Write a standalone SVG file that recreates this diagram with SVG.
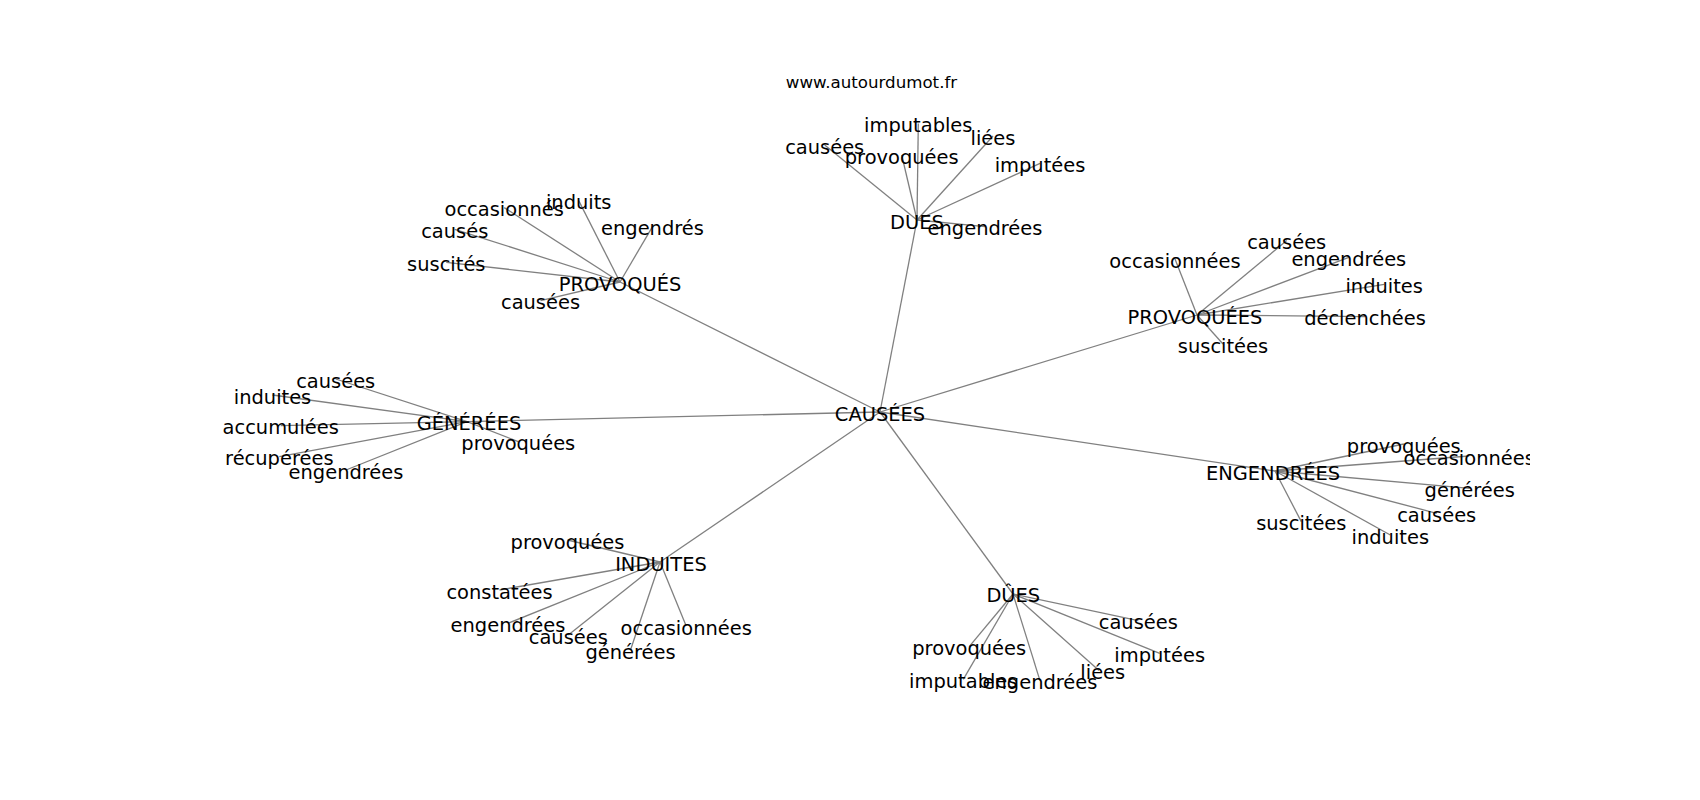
<svg xmlns="http://www.w3.org/2000/svg" width="1700" height="800" viewBox="0 0 1700 800">
<defs>
<clipPath id="ax"><rect x="212.5" y="96" width="1317.5" height="616"/></clipPath>
<style>
.e{stroke:#808080;stroke-width:1.3;fill:none}
.t{font-family:"DejaVu Sans",sans-serif;font-size:19.44px;fill:#000;text-anchor:middle;dominant-baseline:central}
.title{font-family:"DejaVu Sans",sans-serif;font-size:16.67px;fill:#000;text-anchor:middle}
</style>
</defs>
<rect width="1700" height="800" fill="#fff"/>
<text class="title" x="871.5" y="88.3">www.autourdumot.fr</text>
<g clip-path="url(#ax)">
<g id="edges">
<line class="e" x1="880" y1="412" x2="917" y2="220"/>
<line class="e" x1="880" y1="412" x2="620" y2="282"/>
<line class="e" x1="880" y1="412" x2="1197" y2="315"/>
<line class="e" x1="880" y1="412" x2="467" y2="421.6"/>
<line class="e" x1="880" y1="412" x2="1275" y2="471"/>
<line class="e" x1="880" y1="412" x2="660" y2="562"/>
<line class="e" x1="880" y1="412" x2="1013" y2="594"/>
<line class="e" x1="917" y1="220" x2="918.3" y2="123.4"/>
<line class="e" x1="917" y1="220" x2="993" y2="136"/>
<line class="e" x1="917" y1="220" x2="824.7" y2="145"/>
<line class="e" x1="917" y1="220" x2="901.7" y2="155"/>
<line class="e" x1="917" y1="220" x2="1040" y2="163.4"/>
<line class="e" x1="917" y1="220" x2="985" y2="226.7"/>
<line class="e" x1="620" y1="282" x2="504.2" y2="207.6"/>
<line class="e" x1="620" y1="282" x2="578.7" y2="200.6"/>
<line class="e" x1="620" y1="282" x2="454.7" y2="229.3"/>
<line class="e" x1="620" y1="282" x2="652.5" y2="226.6"/>
<line class="e" x1="620" y1="282" x2="446.3" y2="262.3"/>
<line class="e" x1="620" y1="282" x2="540.5" y2="300.6"/>
<line class="e" x1="1197" y1="315" x2="1286.7" y2="240.6"/>
<line class="e" x1="1197" y1="315" x2="1175" y2="259"/>
<line class="e" x1="1197" y1="315" x2="1348.8" y2="257.3"/>
<line class="e" x1="1197" y1="315" x2="1384.2" y2="284.3"/>
<line class="e" x1="1197" y1="315" x2="1365" y2="316.6"/>
<line class="e" x1="1197" y1="315" x2="1223" y2="344"/>
<line class="e" x1="467" y1="421.6" x2="335.7" y2="379"/>
<line class="e" x1="467" y1="421.6" x2="272.5" y2="395"/>
<line class="e" x1="467" y1="421.6" x2="280.7" y2="425.6"/>
<line class="e" x1="467" y1="421.6" x2="518.3" y2="441.6"/>
<line class="e" x1="467" y1="421.6" x2="279.3" y2="456.6"/>
<line class="e" x1="467" y1="421.6" x2="346" y2="470"/>
<line class="e" x1="1275" y1="471" x2="1403.8" y2="444"/>
<line class="e" x1="1275" y1="471" x2="1469.2" y2="456"/>
<line class="e" x1="1275" y1="471" x2="1469.7" y2="488.3"/>
<line class="e" x1="1275" y1="471" x2="1436.7" y2="513.3"/>
<line class="e" x1="1275" y1="471" x2="1301.3" y2="521.6"/>
<line class="e" x1="1275" y1="471" x2="1390.3" y2="535"/>
<line class="e" x1="660" y1="562" x2="567.5" y2="540"/>
<line class="e" x1="660" y1="562" x2="499.5" y2="590"/>
<line class="e" x1="660" y1="562" x2="508" y2="623.3"/>
<line class="e" x1="660" y1="562" x2="686.2" y2="626"/>
<line class="e" x1="660" y1="562" x2="568.3" y2="635"/>
<line class="e" x1="660" y1="562" x2="630.5" y2="650"/>
<line class="e" x1="1013" y1="594" x2="1138.3" y2="620.6"/>
<line class="e" x1="1013" y1="594" x2="969.2" y2="646.6"/>
<line class="e" x1="1013" y1="594" x2="1159.7" y2="653.3"/>
<line class="e" x1="1013" y1="594" x2="1099" y2="670.6"/>
<line class="e" x1="1013" y1="594" x2="963.3" y2="679.3"/>
<line class="e" x1="1013" y1="594" x2="1040" y2="680.6"/>
</g>
<g transform="translate(0,2)">
<g id="n-causees"><text class="t" x="880" y="412">CAUSÉES</text></g>
<g id="n-dues"><text class="t" x="917" y="220">DUES</text></g>
<g id="n-dues-imputables"><text class="t" x="918.3" y="123.4">imputables</text></g>
<g id="n-dues-liees"><text class="t" x="993" y="136">liées</text></g>
<g id="n-dues-causees"><text class="t" x="824.7" y="145">causées</text></g>
<g id="n-dues-provoquees"><text class="t" x="901.7" y="155">provoquées</text></g>
<g id="n-dues-imputees"><text class="t" x="1040" y="163.4">imputées</text></g>
<g id="n-dues-engendrees"><text class="t" x="985" y="226.7">engendrées</text></g>
<g id="n-provoques"><text class="t" x="620" y="282">PROVOQUÉS</text></g>
<g id="n-provoques-occasionnes"><text class="t" x="504.2" y="207.6">occasionnés</text></g>
<g id="n-provoques-induits"><text class="t" x="578.7" y="200.6">induits</text></g>
<g id="n-provoques-causes"><text class="t" x="454.7" y="229.3">causés</text></g>
<g id="n-provoques-engendres"><text class="t" x="652.5" y="226.6">engendrés</text></g>
<g id="n-provoques-suscites"><text class="t" x="446.3" y="262.3">suscités</text></g>
<g id="n-provoques-causees"><text class="t" x="540.5" y="300.6">causées</text></g>
<g id="n-provoquees"><text class="t" x="1195" y="315">PROVOQUÉES</text></g>
<g id="n-provoquees-causees"><text class="t" x="1286.7" y="240.6">causées</text></g>
<g id="n-provoquees-occasionnees"><text class="t" x="1175" y="259">occasionnées</text></g>
<g id="n-provoquees-engendrees"><text class="t" x="1348.8" y="257.3">engendrées</text></g>
<g id="n-provoquees-induites"><text class="t" x="1384.2" y="284.3">induites</text></g>
<g id="n-provoquees-declenchees"><text class="t" x="1365" y="316.6">déclenchées</text></g>
<g id="n-provoquees-suscitees"><text class="t" x="1223" y="344">suscitées</text></g>
<g id="n-generees"><text class="t" x="469" y="421.6">GÉNÉRÉES</text></g>
<g id="n-generees-causees"><text class="t" x="335.7" y="379">causées</text></g>
<g id="n-generees-induites"><text class="t" x="272.5" y="395">induites</text></g>
<g id="n-generees-accumulees"><text class="t" x="280.7" y="425.6">accumulées</text></g>
<g id="n-generees-provoquees"><text class="t" x="518.3" y="441.6">provoquées</text></g>
<g id="n-generees-recuperees"><text class="t" x="279.3" y="456.6">récupérées</text></g>
<g id="n-generees-engendrees"><text class="t" x="346" y="470">engendrées</text></g>
<g id="n-engendrees"><text class="t" x="1273" y="471">ENGENDRÉES</text></g>
<g id="n-engendrees-provoquees"><text class="t" x="1403.8" y="444">provoquées</text></g>
<g id="n-engendrees-occasionnees"><text class="t" x="1469.2" y="456">occasionnées</text></g>
<g id="n-engendrees-generees"><text class="t" x="1469.7" y="488.3">générées</text></g>
<g id="n-engendrees-causees"><text class="t" x="1436.7" y="513.3">causées</text></g>
<g id="n-engendrees-suscitees"><text class="t" x="1301.3" y="521.6">suscitées</text></g>
<g id="n-engendrees-induites"><text class="t" x="1390.3" y="535">induites</text></g>
<g id="n-induites"><text class="t" x="661" y="562">INDUITES</text></g>
<g id="n-induites-provoquees"><text class="t" x="567.5" y="540">provoquées</text></g>
<g id="n-induites-constatees"><text class="t" x="499.5" y="590">constatées</text></g>
<g id="n-induites-engendrees"><text class="t" x="508" y="623.3">engendrées</text></g>
<g id="n-induites-occasionnees"><text class="t" x="686.2" y="626">occasionnées</text></g>
<g id="n-induites-causees"><text class="t" x="568.3" y="635">causées</text></g>
<g id="n-induites-generees"><text class="t" x="630.5" y="650">générées</text></g>
<g id="n-dues2"><text class="t" x="1013.3" y="593">DÛES</text></g>
<g id="n-dues2-causees"><text class="t" x="1138.3" y="620.6">causées</text></g>
<g id="n-dues2-provoquees"><text class="t" x="969.2" y="646.6">provoquées</text></g>
<g id="n-dues2-imputees"><text class="t" x="1159.7" y="653.3">imputées</text></g>
<g id="n-dues2-liees"><text class="t" x="1102.8" y="670.6">liées</text></g>
<g id="n-dues2-imputables"><text class="t" x="963.3" y="679.3">imputables</text></g>
<g id="n-dues2-engendrees"><text class="t" x="1040" y="680.6">engendrées</text></g>
</g>
</g>
</svg>
